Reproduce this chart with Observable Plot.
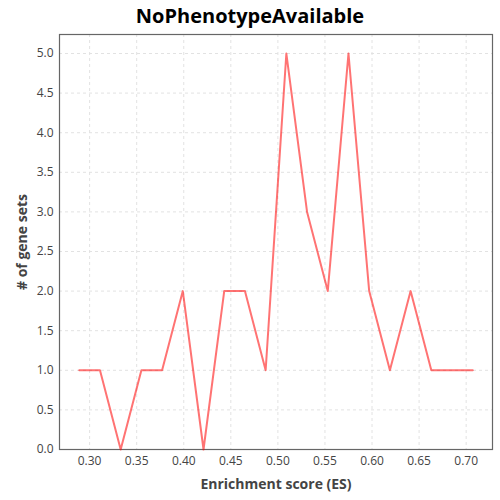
<!DOCTYPE html>
<html>
<head>
<meta charset="utf-8">
<script src="https://cdn.jsdelivr.net/npm/d3@7"></script>
<script src="https://cdn.jsdelivr.net/npm/@observablehq/plot@0.6"></script>
<style>
  body { margin: 0; background: #fff; font-family: "Open Sans", sans-serif; }
  #title { width: 500px; height: 30px; line-height: 32px; text-align: center; font-size: 20px; font-weight: bold; color: #000; }
</style>
</head>
<body>
<div id="title">NoPhenotypeAvailable</div>
<div id="chart"></div>
<script>
const esValues = [0.289, 0.311, 0.333, 0.355, 0.377, 0.399, 0.421, 0.443, 0.465, 0.487,
                  0.509, 0.531, 0.553, 0.575, 0.597, 0.619, 0.641, 0.663, 0.685, 0.707];
const geneSetCounts = [1, 1, 0, 1, 1, 2, 0, 2, 2, 1, 5, 3, 2, 5, 2, 1, 2, 1, 1, 1];
const xTicks = [0.30, 0.35, 0.40, 0.45, 0.50, 0.55, 0.60, 0.65, 0.70];
const yTicks = [0, 0.5, 1, 1.5, 2, 2.5, 3, 3.5, 4, 4.5, 5];

const data = esValues.map((x, i) => ({x, y: geneSetCounts[i]}));

const chart = Plot.plot({
  width: 500,
  height: 470,
  marginTop: 4,
  marginBottom: 51,
  marginLeft: 59,
  marginRight: 8,
  style: {fontFamily: "Open Sans, sans-serif", fontSize: "12px", color: "#444", background: "#fff"},
  x: {domain: [0.268, 0.728], ticks: xTicks, tickFormat: d3.format(".2f")},
  y: {domain: [0, 5.24], ticks: yTicks, tickFormat: d3.format(".1f")},
  marks: [
    Plot.gridX(xTicks, {stroke: "#e2e2e2", strokeOpacity: 1, strokeDasharray: "3,3"}),
    Plot.gridY(yTicks, {stroke: "#e2e2e2", strokeOpacity: 1, strokeDasharray: "3,3"}),
    Plot.frame({stroke: "#666", strokeWidth: 1.2}),
    Plot.axisX(xTicks, {tickSize: 0, tickPadding: 7, tickFormat: d3.format(".2f"), fontSize: 12, fill: "#444",
      label: "Enrichment score (ES)", labelAnchor: "center", labelArrow: "none", labelOffset: 39}),
    Plot.axisY(yTicks, {tickSize: 0, tickPadding: 6, tickFormat: d3.format(".1f"), fontSize: 12, fill: "#444",
      label: "# of gene sets", labelAnchor: "center", labelArrow: "none", labelOffset: 42}),
    Plot.line(data, {x: "x", y: "y", stroke: "red", strokeOpacity: 0.55, strokeWidth: 2})
  ]
});
document.getElementById("chart").appendChild(chart);
chart.querySelectorAll("g[aria-label='x-axis label'] text, g[aria-label='y-axis label'] text").forEach(t => {
  t.setAttribute("font-weight", "bold");
  t.setAttribute("font-size", "14");
  t.setAttribute("fill", "#444");
});
</script>
</body>
</html>
